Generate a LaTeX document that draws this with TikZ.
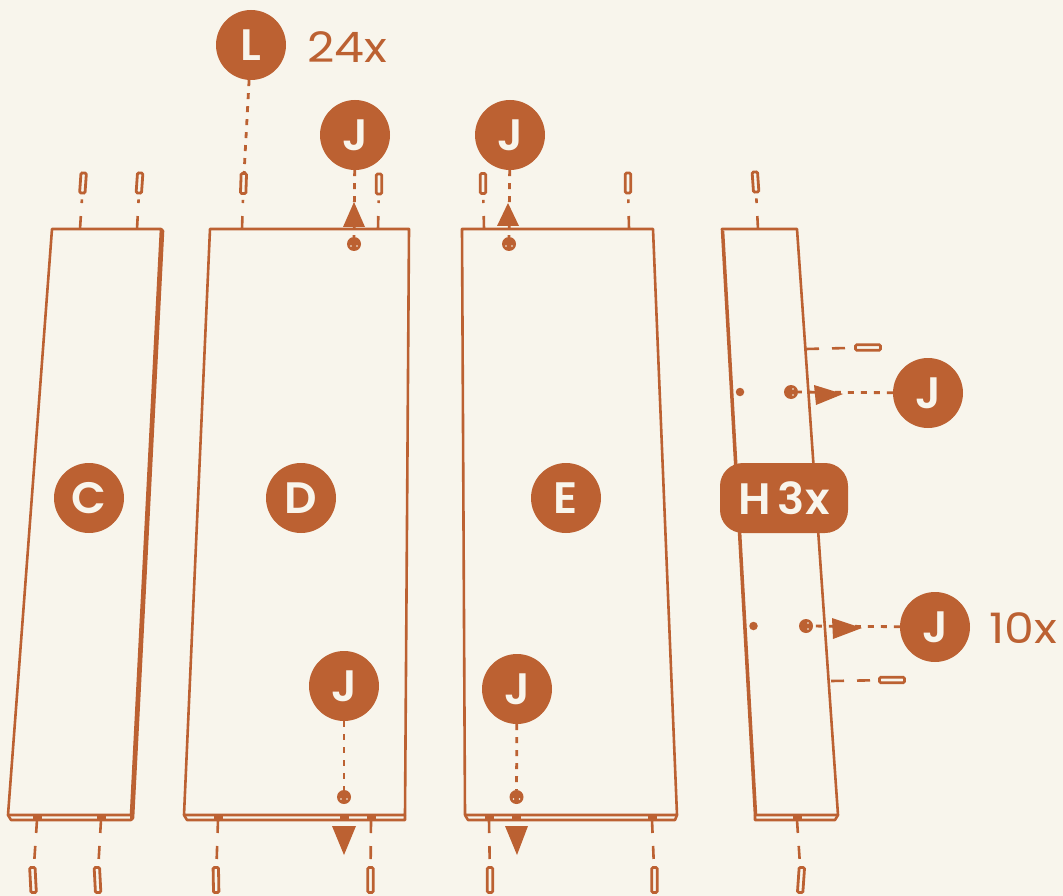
\documentclass[tikz,border=0pt]{standalone}
\usepackage{fontspec}
\setmainfont{Poppins}
\newfontfamily\badgefont[FakeStretch=1.03]{Poppins SemiBold}
\newfontfamily\countfont[FakeStretch=1.13]{Poppins}
\definecolor{rust}{HTML}{BC6132}
\definecolor{paper}{HTML}{F8F5EC}
\tikzset{
  panel/.style={draw=rust,line width=2.6pt,line join=round},
  badge/.style={circle,fill=rust,text=paper,minimum size=70pt,inner sep=0pt,font=\badgefont\fontsize{44}{44}\selectfont},
  pill/.style={rectangle,rounded corners=23pt,fill=rust,text=paper,minimum width=128pt,minimum height=70pt,inner sep=0pt,font=\badgefont\fontsize{44}{44}\selectfont},
  count/.style={text=rust,inner sep=0pt,font=\countfont\fontsize{42}{42}\selectfont},
  pegbox/.style={draw=rust,fill=paper,line width=2.8pt,rounded corners=1.2pt,minimum width=5.4pt,minimum height=20pt,inner sep=0pt},
  pegside/.style={draw=rust,fill=paper,line width=2.8pt,rounded corners=1.2pt,minimum width=25pt,minimum height=5.4pt,inner sep=0pt},
  pegdash/.style={draw=rust,line width=2.6pt,dash pattern=on 13pt off 13pt},
  dots/.style={draw=rust,line width=2.8pt,dash pattern=on 6pt off 7pt},
  hole/.style={circle,fill=rust,minimum size=14pt,inner sep=0pt},
  smallhole/.style={circle,fill=rust,minimum size=8.5pt,inner sep=0pt},
  tab/.style={fill=rust},
  pointer/.style={fill=rust},
  spark/.style={fill=paper}
}
\newcommand{\holemarks}[2]{\fill[spark] (#1-3,#2+2) circle (.8pt) (#1+3,#2+2) circle (.8pt);}
\begin{document}
\begin{tikzpicture}[x=1pt,y=-1pt]
\useasboundingbox (0,0) rectangle (1063,896);
\fill[paper] (0,0) rectangle (1063,896);

% panels
\draw[panel] (52,229) -- (161,229) -- (131,815) -- (8,815) -- cycle;
\draw[panel] (161,229) -- (163,231) -- (133,818) -- (131,820) -- (11,820) -- (8,815);
\draw[panel] (131,815) -- (131,820);
\draw[panel] (210,229) -- (409,229) -- (405,815) -- (184,815) -- cycle;
\draw[panel] (184,815) -- (187,820) -- (405,820) -- (405,815);
\draw[panel] (462,229) -- (653,229) -- (677,815) -- (465,815) -- cycle;
\draw[panel] (465,815) -- (468,820) -- (675,820) -- (677,815);
\draw[panel] (722,229) -- (797,229) -- (838,815) -- (755,815) -- cycle;
\draw[panel] (723,231) -- (756,815);
\draw[panel] (755,815) -- (755,820) -- (835,820) -- (838,815);

% tabs on bottom strips
\foreach \x in {37,101,218,344,371,489,516,652,797}
  \fill[tab] (\x-4.5,815) rectangle (\x+4.5,821);

% edge coordinates
\coordinate (t1) at (80,229);  \coordinate (t2) at (137,229);
\coordinate (t3) at (242,229); \coordinate (t4) at (378,229);
\coordinate (t5) at (484,229); \coordinate (t6) at (629,229);
\coordinate (t7) at (758,229);
\coordinate (b1) at (37,820);  \coordinate (b2) at (101,820);
\coordinate (b3) at (218,820); \coordinate (b4) at (371,820);
\coordinate (b5) at (489,820); \coordinate (b6) at (652,820);
\coordinate (b7) at (797,820);
\coordinate (s1) at (806,349); \coordinate (s2) at (831,681);

% pegs
\node[pegbox,rotate=-4] (p1) at (83,183) {};
\node[pegbox,rotate=-4] (p2) at (139.5,183) {};
\node[pegbox,rotate=-2] (p3) at (243.5,183.5) {};
\node[pegbox] (p4) at (379,184) {};
\node[pegbox] (p5) at (483,183.5) {};
\node[pegbox] (p6) at (628,183) {};
\node[pegbox,rotate=4] (p7) at (755.5,182) {};
\node[pegbox,minimum height=25pt,rotate=3] (q1) at (33,880) {};
\node[pegbox,minimum height=25pt,rotate=3] (q2) at (97.5,880) {};
\node[pegbox,minimum height=25pt,rotate=1] (q3) at (216,880) {};
\node[pegbox,minimum height=25pt] (q4) at (370.5,880) {};
\node[pegbox,minimum height=25pt] (q5) at (490,880) {};
\node[pegbox,minimum height=25pt] (q6) at (654.5,880) {};
\node[pegbox,minimum height=25pt,rotate=-4] (q7) at (801,880) {};
\node[pegside] (r1) at (868,347.5) {};
\node[pegside] (r2) at (892,680) {};

% peg connectors
\foreach \a/\b in {t1/p1,t2/p2,t3/p3,t4/p4,t5/p5,t6/p6,t7/p7,b1/q1,b2/q2,b3/q3,b4/q4,b5/q5,b6/q6,b7/q7,s1/r1,s2/r2}
  \draw[pegdash,shorten >=5pt] (\a) -- (\b);

% holes
\node[hole] (h1) at (354,244) {}; \holemarks{354}{244}
\node[hole] (h2) at (509,244) {}; \holemarks{509}{244}
\node[hole] (h3) at (344,797) {}; \holemarks{344}{797}
\node[hole] (h4) at (516.5,797) {}; \holemarks{516.5}{797}
\node[hole] (h5) at (791,392) {}; \fill[spark] (793,389) circle (.8pt) (793,395) circle (.8pt);
\node[hole] (h6) at (806,626) {}; \fill[spark] (808,623) circle (.8pt) (808,629) circle (.8pt);
\node[smallhole] (h7) at (740,392) {};
\node[smallhole] (h8) at (753.5,626) {};

% badges
\node[badge] (L) at (251,45) {L};
\node[badge] (j1) at (355,135) {J};
\node[badge] (j2) at (510,135) {J};
\node[badge] (j3) at (344,686) {J};
\node[badge] (j4) at (517,689) {J};
\node[badge] (j5) at (928,393) {J};
\node[badge] (j6) at (935,627) {J};
\node[badge] (C) at (89,498) {C};
\node[badge] (D) at (301,498) {D};
\node[badge] (E) at (566,498) {E};
\node[pill] (H) at (784,498) {H\hspace{7pt}3x};
\node[count,anchor=west] (n24) at (307,47) {24x};
\node[count,anchor=west] (n10) at (989,628) {10x};

% dotted connectors
\draw[dots] (L) -- (p3);
\draw[dots] (j1) -- (h1);
\draw[dots] (j2) -- (h2);
\draw[dots] (j3) -- (h3);
\draw[dots] (j4) -- (h4);
\draw[dots] (j5) -- (h5);
\draw[dots] (j6) -- (h6);

% pointers
\fill[pointer] (354,202) -- (343,227) -- (365,227) -- cycle;
\fill[pointer] (508,203) -- (497,226) -- (519,226) -- cycle;
\fill[pointer] (332,826) -- (356,826) -- (344,855) -- cycle;
\fill[pointer] (505,826) -- (528,826) -- (517,855) -- cycle;
\fill[pointer] (814,385) -- (816,405) -- (843,394) -- cycle;
\fill[pointer] (832,618) -- (833,639) -- (862,628) -- cycle;
\end{tikzpicture}
\end{document}
